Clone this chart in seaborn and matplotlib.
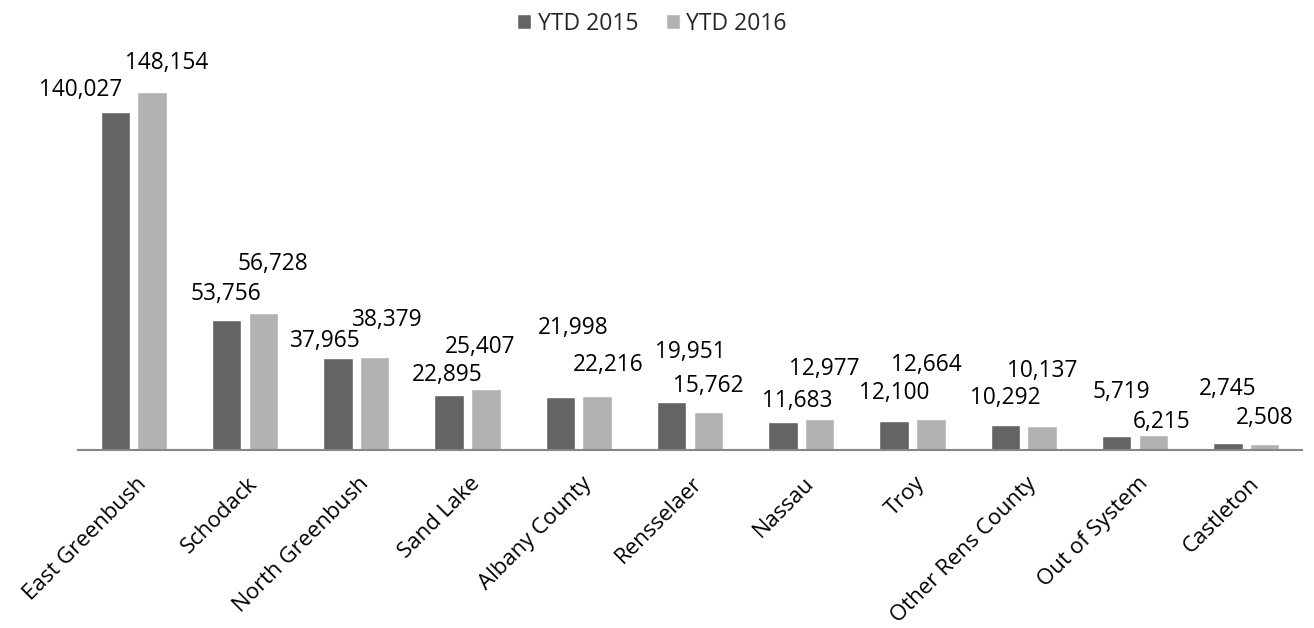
import pandas as pd
import matplotlib
matplotlib.use("Agg")
import matplotlib.pyplot as plt
import matplotlib.transforms as mtransforms
import seaborn as sns

# data
areas = ["East Greenbush", "Schodack", "North Greenbush", "Sand Lake", "Albany County",
         "Rensselaer", "Nassau", "Troy", "Other Rens County", "Out of System", "Castleton"]
ytd_2015 = [140027, 53756, 37965, 22895, 21998, 19951, 11683, 12100, 10292, 5719, 2745]
ytd_2016 = [148154, 56728, 38379, 25407, 22216, 15762, 12977, 12664, 10137, 6215, 2508]
series = ["YTD 2015", "YTD 2016"]

# label nudges (pixels) relative to each bar top, as placed in the original
label_nudge = {
    "YTD 2015": [(-35, 22), (-1, 26), (-13, 17), (-2, 20), (13, 69), (19, 50),
                 (14, 21), (0, 28), (0, 27), (5, 44), (0, 54)],
    "YTD 2016": [(15, 29), (10, 49), (13, 37), (-6, 42), (11, 31), (0, 26),
                 (5, 50), (-5, 54), (0, 55), (8, 13), (0, 26)],
}

colors = ["#646464", "#b2b2b2"]

df = pd.DataFrame({
    "area": areas * 2,
    "visits": ytd_2015 + ytd_2016,
    "period": [series[0]] * len(areas) + [series[1]] * len(areas),
})

sns.set_style("white")
plt.rcParams["font.family"] = ["Open Sans", "DejaVu Sans"]

fig = plt.figure(figsize=(13.14, 6.28), dpi=100)
ax = fig.add_axes([78 / 1314, 178 / 628, 1224 / 1314, 0.6156])

sns.barplot(data=df, x="area", y="visits", hue="period", palette=colors,
            width=0.66, gap=0.2, saturation=1, ax=ax)

ax.set_ylim(0, 160000)
ax.set_xlabel("")
ax.set_ylabel("")
ax.set_yticks([])
for side in ["left", "top", "right"]:
    ax.spines[side].set_visible(False)
ax.spines["bottom"].set_color("#868686")
ax.spines["bottom"].set_linewidth(1.5)

# value labels
for container, name in zip(ax.containers, series):
    for bar, (dx, dy) in zip(container, label_nudge[name]):
        h = bar.get_height()
        ax.annotate(f"{h:,.0f}", (bar.get_x() + bar.get_width() / 2, h),
                    xytext=(dx, dy), textcoords="offset pixels",
                    ha="center", va="center", fontsize=16.3, color="#000000")

# rotated category labels
ax.tick_params(axis="x", length=0, pad=16.6, labelsize=16, colors="#000000")
shift = mtransforms.ScaledTranslation(0.02, 0, fig.dpi_scale_trans)
for lbl in ax.get_xticklabels():
    lbl.set_rotation(45)
    lbl.set_ha("right")
    lbl.set_va("top")
    lbl.set_rotation_mode("anchor")
    lbl.set_transform(lbl.get_transform() + shift)

handles, labels = ax.get_legend_handles_labels()
ax.get_legend().remove()
fig.legend(handles, labels, loc="center", bbox_to_anchor=(652 / 1314, 1 - 23.5 / 628),
           ncol=2, frameon=False, fontsize=16.5, handlelength=0.6, handleheight=0.6,
           handletextpad=0.3, columnspacing=1.2)

fig.savefig("out.png", dpi=100)
